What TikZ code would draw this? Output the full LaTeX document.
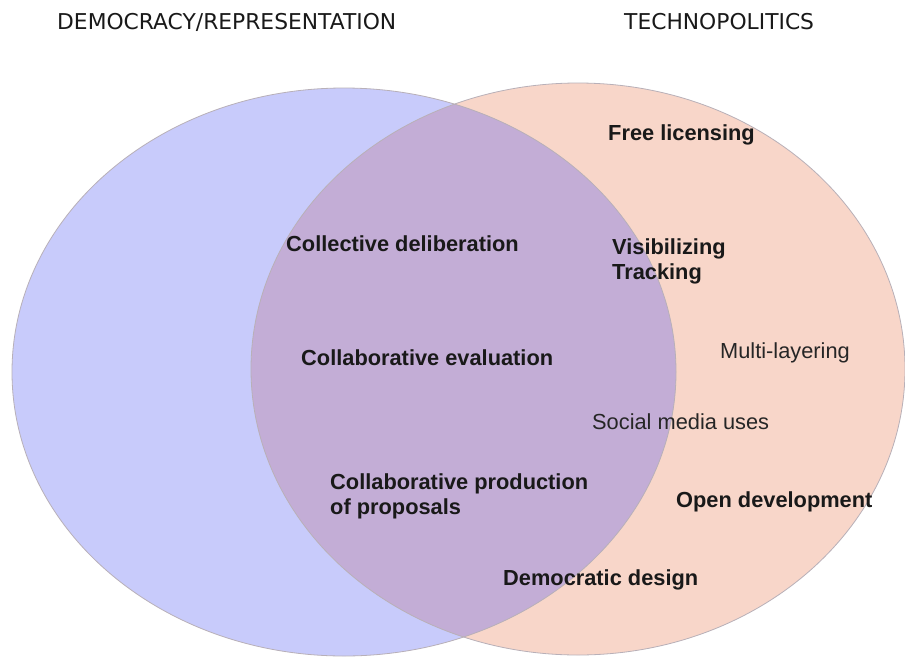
\documentclass[tikz,border=0pt]{standalone}
\usepackage{fontspec}
\setmainfont{Liberation Sans}
\newfontfamily\titlefont{DejaVu Sans}
\definecolor{blueset}{HTML}{C8CBFB}
\definecolor{peachset}{HTML}{F8D6C9}
\definecolor{bothset}{HTML}{C3ADD6}
\definecolor{edgegrey}{HTML}{B8B0B8}
\begin{document}
\begin{tikzpicture}[x=1pt,y=-1pt,
  lbl/.style={anchor=west,inner sep=0pt,font=\fontsize{21.8}{25}\selectfont\bfseries,text=black!90,align=left},
  rlbl/.style={anchor=west,inner sep=0pt,font=\fontsize{21.8}{25}\selectfont,text=black!85},
  ttl/.style={anchor=west,inner sep=0pt,font=\titlefont\fontsize{21.8}{25}\selectfont,text=black!90}]
\useasboundingbox[fill=white] (0,0) rectangle (905,659);
\fill[blueset] (344,372) ellipse [x radius=332, y radius=284];
\fill[peachset] (578,369) ellipse [x radius=327, y radius=286];
\begin{scope}
\clip (344,372) ellipse [x radius=332, y radius=284];
\fill[bothset] (578,369) ellipse [x radius=327, y radius=286];
\end{scope}
\draw[edgegrey,line width=0.8pt] (344,372) ellipse [x radius=332, y radius=284];
\draw[edgegrey,line width=0.8pt] (578,369) ellipse [x radius=327, y radius=286];
\node[ttl] (t1) at (57,22) {DEMOCRACY/REPRESENTATION};
\node[ttl] (t2) at (624,22) {TECHNOPOLITICS};
\node[lbl] (a) at (608,135) {Free licensing};
\node[lbl] (b) at (286,244) {Collective deliberation};
\node[lbl] (c) at (612,261) {Visibilizing\\Tracking};
\node[rlbl] (d) at (720,352.5) {Multi-layering};
\node[lbl] (e) at (301,357.5) {Collaborative evaluation};
\node[rlbl] (f) at (592,421.5) {Social media uses};
\node[lbl] (g) at (330,496) {Collaborative production\\of proposals};
\node[lbl] (h) at (676,501.5) {Open development};
\node[lbl] (i) at (503,579.5) {Democratic design};
\end{tikzpicture}
\end{document}
